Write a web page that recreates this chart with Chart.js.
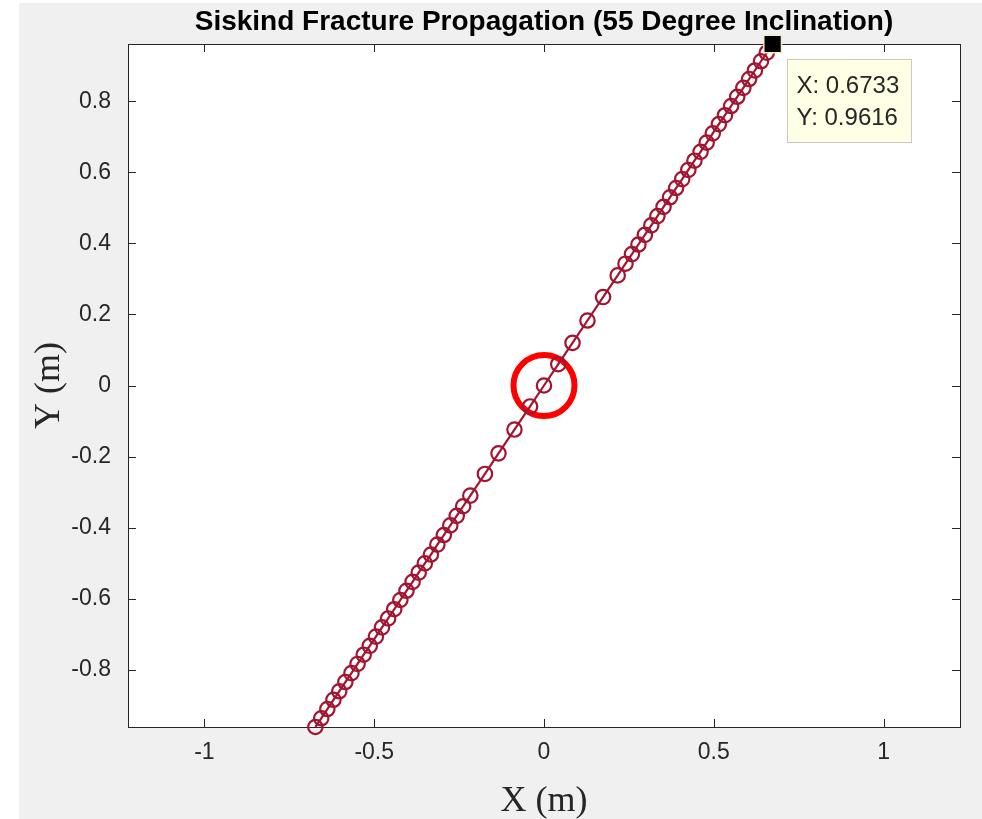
<!DOCTYPE html>
<html>
<head>
<meta charset="utf-8">
<title>Siskind Fracture Propagation</title>
<script src="https://cdn.jsdelivr.net/npm/chart.js@4.4.0/dist/chart.umd.min.js"></script>
<style>
  html, body { margin: 0; padding: 0; background: #fff; }
  canvas { display: block; }
</style>
</head>
<body>
<canvas id="crack" width="982" height="819"></canvas>
<script>
// crack tip positions, lower branch end -> centre -> upper branch end
const crackX = [
  -0.6733, -0.656, -0.638, -0.620, -0.603, -0.585, -0.567, -0.549, -0.531, -0.513,
  -0.495, -0.477, -0.459, -0.441, -0.423, -0.405, -0.387, -0.369, -0.351, -0.333,
  -0.314, -0.295, -0.276, -0.257, -0.238, -0.217, -0.174, -0.134, -0.087, -0.041,
  0,
  0.042, 0.084, 0.128, 0.174, 0.217, 0.240, 0.259, 0.278, 0.297, 0.316,
  0.334, 0.352, 0.371, 0.389, 0.407, 0.425, 0.443, 0.461, 0.479, 0.497,
  0.515, 0.533, 0.551, 0.569, 0.587, 0.604, 0.621, 0.639, 0.656, 0.6733
];
const crackY = [
  -0.9616, -0.937, -0.911, -0.885, -0.861, -0.835, -0.810, -0.784, -0.758, -0.733,
  -0.707, -0.681, -0.656, -0.630, -0.604, -0.578, -0.553, -0.527, -0.501, -0.476,
  -0.448, -0.421, -0.394, -0.367, -0.340, -0.310, -0.249, -0.191, -0.124, -0.059,
  0,
  0.060, 0.120, 0.183, 0.249, 0.310, 0.343, 0.370, 0.397, 0.424, 0.451,
  0.477, 0.503, 0.530, 0.556, 0.581, 0.607, 0.633, 0.658, 0.684, 0.710,
  0.736, 0.761, 0.787, 0.813, 0.838, 0.863, 0.887, 0.913, 0.937, 0.9616
];

// initial notch at the origin
const notchX = [0];
const notchY = [0];

// data cursor on the last tip
const cursorX = [0.6733];
const cursorY = [0.9616];

const xTicks = [-1, -0.5, 0, 0.5, 1];
const yTicks = [-0.8, -0.6, -0.4, -0.2, 0, 0.2, 0.4, 0.6, 0.8];
const xLimits = [-1.225, 1.225];
const yLimits = [-0.9616, 0.9616];

const plotTitle = "Siskind Fracture Propagation (55 Degree Inclination)";

const toPoints = (xs, ys) => xs.map((x, i) => ({ x: x, y: ys[i] }));

Chart.defaults.font.family = "'Liberation Sans', Arial, Helvetica, sans-serif";
Chart.defaults.color = "#262626";

const matlabAxes = {
  id: "matlabAxes",
  beforeDraw(chart) {
    const ctx = chart.ctx;
    const a = chart.chartArea;
    ctx.save();
    ctx.fillStyle = "#ffffff";
    ctx.fillRect(0, 0, chart.width, chart.height);
    ctx.fillStyle = "#f0f0f0";
    ctx.fillRect(19, 3, chart.width - 19, chart.height - 3);
    ctx.fillStyle = "#ffffff";
    ctx.fillRect(a.left, a.top, a.right - a.left, a.bottom - a.top);
    // title sits over the axes box, not the whole figure
    ctx.fillStyle = "#000000";
    ctx.font = "bold 28px 'Liberation Sans', Arial, sans-serif";
    ctx.textAlign = "center";
    ctx.textBaseline = "middle";
    ctx.fillText(plotTitle, (a.left + a.right) / 2, 22);
    ctx.restore();
  },
  beforeDatasetsDraw(chart) {
    const ctx = chart.ctx;
    const a = chart.chartArea;
    const xs = chart.scales.x;
    const ys = chart.scales.y;
    const tick = 8;
    ctx.save();
    ctx.strokeStyle = "#262626";
    ctx.lineWidth = 1;
    ctx.beginPath();
    xTicks.forEach((v) => {
      const px = Math.round(xs.getPixelForValue(v)) + 0.5;
      ctx.moveTo(px, a.bottom);
      ctx.lineTo(px, a.bottom - tick);
      ctx.moveTo(px, a.top);
      ctx.lineTo(px, a.top + tick);
    });
    yTicks.forEach((v) => {
      const py = Math.round(ys.getPixelForValue(v)) + 0.5;
      ctx.moveTo(a.left, py);
      ctx.lineTo(a.left + tick, py);
      ctx.moveTo(a.right, py);
      ctx.lineTo(a.right - tick, py);
    });
    ctx.stroke();
    ctx.strokeRect(Math.round(a.left) + 0.5, Math.round(a.top) + 0.5,
      Math.round(a.right - a.left), Math.round(a.bottom - a.top));
    ctx.restore();
  },
  afterDatasetsDraw(chart) {
    const ctx = chart.ctx;
    const px = chart.scales.x.getPixelForValue(cursorX[0]);
    const py = chart.scales.y.getPixelForValue(cursorY[0]);
    const bx = Math.round(px + 14) + 0.5;
    const by = Math.round(py + 15) + 0.5;
    const bw = 124;
    const bh = 83;
    ctx.save();
    ctx.fillStyle = "#ffffe6";
    ctx.fillRect(bx, by, bw, bh);
    ctx.strokeStyle = "#c9c9bd";
    ctx.lineWidth = 1;
    ctx.strokeRect(bx, by, bw, bh);
    ctx.fillStyle = "#262626";
    ctx.font = "24px 'Liberation Sans', Arial, sans-serif";
    ctx.textBaseline = "middle";
    ctx.textAlign = "left";
    ctx.fillText("X: " + cursorX[0].toFixed(4), bx + 9, by + 27);
    ctx.fillText("Y: " + cursorY[0].toFixed(4), bx + 9, by + 59);
    ctx.restore();
  }
};

new Chart(document.getElementById("crack").getContext("2d"), {
  type: "scatter",
  data: {
    datasets: [
      {
        label: "cursor",
        data: toPoints(cursorX, cursorY),
        pointStyle: "rect",
        pointRadius: 12.5,
        pointBackgroundColor: "#000000",
        pointBorderColor: "#f2eec4",
        pointBorderWidth: 1.5,
        clip: false,
        order: 0
      },
      {
        label: "crack",
        data: toPoints(crackX, crackY),
        showLine: true,
        borderColor: "#a2142f",
        borderWidth: 2.2,
        pointRadius: 7.2,
        pointBorderWidth: 2.2,
        pointBorderColor: "#a2142f",
        pointBackgroundColor: "rgba(0,0,0,0)",
        clip: false,
        order: 1
      },
      {
        label: "notch",
        data: toPoints(notchX, notchY),
        pointRadius: 30.5,
        pointBorderWidth: 6,
        pointBorderColor: "#ff0000",
        pointBackgroundColor: "rgba(0,0,0,0)",
        clip: false,
        order: 2
      }
    ]
  },
  options: {
    responsive: false,
    animation: false,
    events: [],
    layout: {
      autoPadding: false,
      padding: { left: 0, right: 22, top: 44, bottom: 0 }
    },
    plugins: {
      legend: { display: false },
      tooltip: { enabled: false },
      title: { display: false }
    },
    scales: {
      x: {
        type: "linear",
        min: xLimits[0],
        max: xLimits[1],
        afterBuildTicks: (scale) => { scale.ticks = xTicks.map((v) => ({ value: v })); },
        afterFit: (scale) => {
          scale.height = 92;
          scale.paddingLeft = 0;
          scale.paddingRight = 0;
        },
        grid: { display: false, drawTicks: false },
        border: { display: false },
        ticks: {
          padding: 12,
          font: { size: 23 },
          color: "#262626",
          maxRotation: 0,
          callback: (v) => String(v)
        },
        title: {
          display: true,
          text: "X (m)",
          font: { family: "'Liberation Serif', 'Times New Roman', serif", size: 36 },
          color: "#262626",
          padding: { top: 0, bottom: -4 }
        }
      },
      y: {
        type: "linear",
        min: yLimits[0],
        max: yLimits[1],
        afterBuildTicks: (scale) => { scale.ticks = yTicks.map((v) => ({ value: v })); },
        afterFit: (scale) => {
          scale.width = 128;
          scale.paddingTop = 0;
          scale.paddingBottom = 0;
        },
        grid: { display: false, drawTicks: false },
        border: { display: false },
        ticks: {
          padding: 17,
          font: { size: 23 },
          color: "#262626",
          callback: (v) => String(v)
        },
        title: {
          display: true,
          text: "Y (m)",
          font: { family: "'Liberation Serif', 'Times New Roman', serif", size: 36 },
          color: "#262626",
          padding: { top: 28, bottom: 0 }
        }
      }
    }
  },
  plugins: [matlabAxes]
});
</script>
</body>
</html>
